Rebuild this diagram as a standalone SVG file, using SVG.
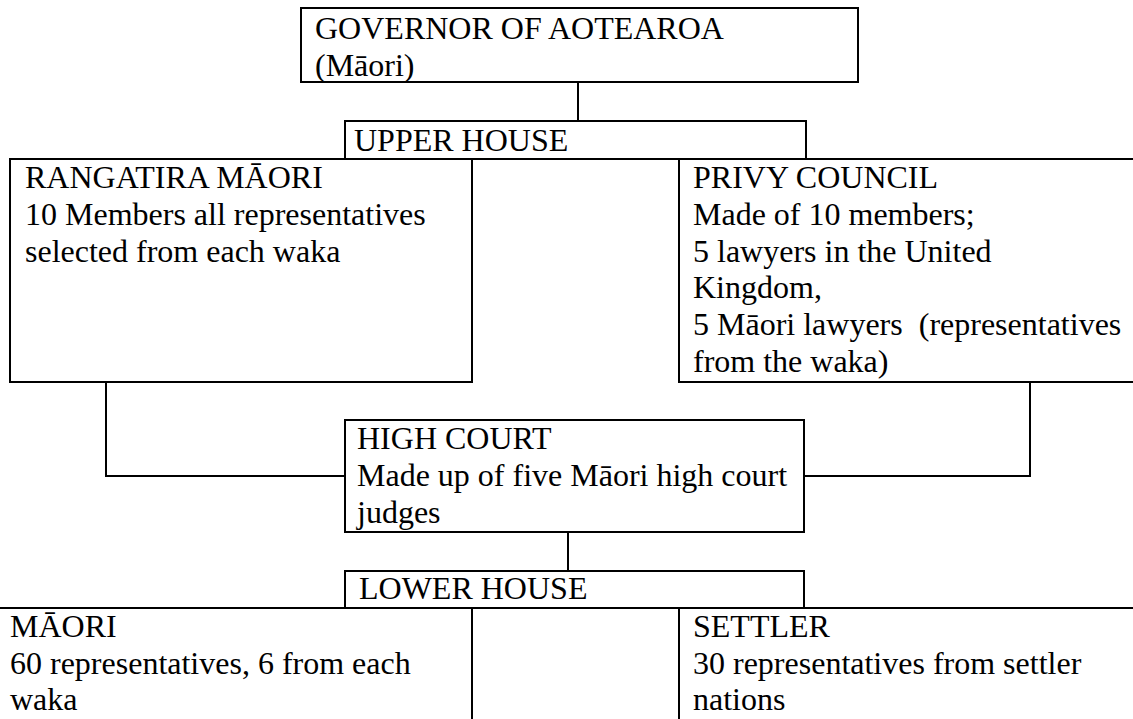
<svg xmlns="http://www.w3.org/2000/svg" width="1133" height="719" viewBox="0 0 1133 719">
<style>
.box{fill:#fff;stroke:#000;stroke-width:2}
.t{font-family:"Liberation Serif","Times New Roman",serif;font-size:32px;fill:#000}
.c{fill:none;stroke:#000;stroke-width:2}
</style>
<rect x="0" y="0" width="1133" height="719" fill="#fff"/>
<g id="connectors">
<path class="c" d="M578,82 V121"/>
<path class="c" d="M106,382 V476 H345"/>
<path class="c" d="M1030,382 V476 H804"/>
<path class="c" d="M568,532 V571"/>
</g>
<g id="governor">
<rect class="box" x="301" y="8" width="557" height="74"/>
<text class="t" x="315" y="39">GOVERNOR OF AOTEAROA</text>
<text class="t" x="315" y="76">(Māori)</text>
</g>
<g id="upper-house">
<rect class="box" x="345" y="121" width="461" height="38"/>
<text class="t" x="354" y="151">UPPER HOUSE</text>
</g>
<g id="rangatira">
<rect class="box" x="10" y="159" width="462" height="223"/>
<text class="t" x="25" y="188">RANGATIRA MĀORI</text>
<text class="t" x="25" y="225">10 Members all representatives</text>
<text class="t" x="25" y="262">selected from each waka</text>
</g>
<g id="privy-council">
<rect class="box" x="679" y="159" width="470" height="223"/>
<text class="t" x="693" y="188">PRIVY COUNCIL</text>
<text class="t" x="693" y="225">Made of 10 members;</text>
<text class="t" x="693" y="262">5 lawyers in the United</text>
<text class="t" x="693" y="298">Kingdom,</text>
<text class="t" x="693" y="335" xml:space="preserve">5 Māori lawyers  (representatives</text>
<text class="t" x="693" y="372">from the waka)</text>
</g>
<g id="high-court">
<rect class="box" x="345" y="420" width="459" height="112"/>
<text class="t" x="357" y="449">HIGH COURT</text>
<text class="t" x="357" y="486">Made up of five Māori high court</text>
<text class="t" x="357" y="523">judges</text>
</g>
<g id="lower-house">
<rect class="box" x="345" y="571" width="459" height="37"/>
<text class="t" x="359" y="599">LOWER HOUSE</text>
</g>
<g id="maori">
<rect class="box" x="-5" y="608" width="477" height="130"/>
<text class="t" x="10" y="637">MĀORI</text>
<text class="t" x="10" y="674">60 representatives, 6 from each</text>
<text class="t" x="10" y="710">waka</text>
</g>
<g id="settler">
<rect class="box" x="679" y="608" width="470" height="130"/>
<text class="t" x="693" y="637">SETTLER</text>
<text class="t" x="693" y="674">30 representatives from settler</text>
<text class="t" x="693" y="710">nations</text>
</g>
</svg>
